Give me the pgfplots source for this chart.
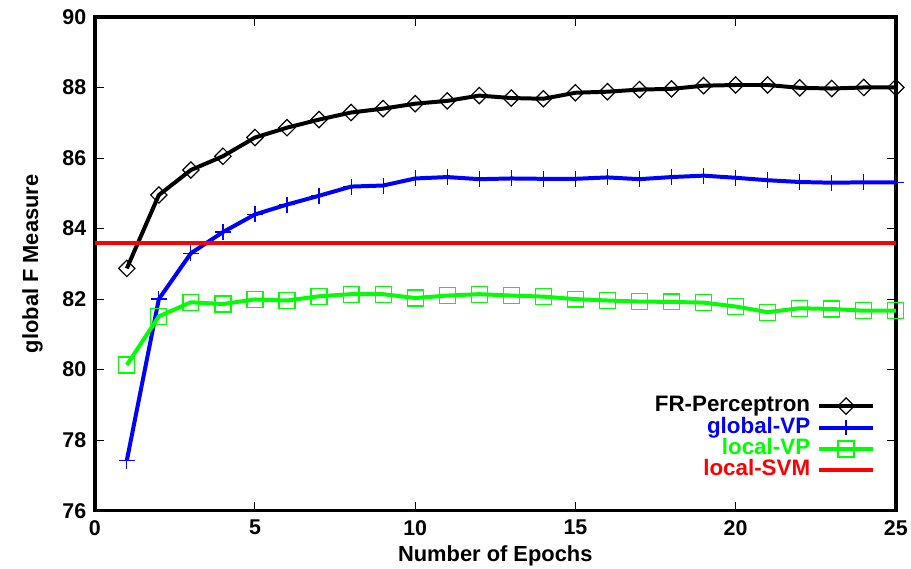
\documentclass[border=0pt]{standalone}
\usepackage{pgfplots}
\pgfplotsset{compat=1.18}
\usepackage{fontspec}
\setmainfont{Liberation Sans}

\begin{document}
\begin{tikzpicture}
\begin{axis}[
    width=803bp, height=495bp,
    scale only axis,
    xmin=0, xmax=25,
    ymin=76, ymax=90,
    xtick={0,5,10,15,20,25},
    ytick={76,78,80,82,84,86,88,90},
    tick align=inside,
    major tick length=9bp,
    tick style={black, line width=1bp},
    axis line style={line width=3.5bp},
    /pgf/number format/assume math mode=true,
    ticklabel style={font=\bfseries\fontsize{21.5}{21.5}\selectfont},
    xticklabel style={yshift=-6bp},
    yticklabel style={xshift=-5bp},
    label style={font=\bfseries\fontsize{22}{22}\selectfont},
    xlabel={Number of Epochs},
    ylabel={global F Measure},
    xlabel style={yshift=-3bp},
    ylabel style={yshift=13bp},
    clip=false,
    legend style={
        at={(rel axis cs:0.978,0.056)}, anchor=south east,
        draw=none, fill=none,
        font=\bfseries\fontsize{22.5}{22}\selectfont,
        row sep=0.5bp, column sep=7bp,
        nodes={inner sep=0pt, text height=16bp, text depth=5bp},
        cells={anchor=east},
    },
    legend plot pos=right,
    legend image code/.code={
        \draw[mark repeat=2,mark phase=2,#1]
        plot coordinates {(0bp,0bp) (27bp,0bp) (54bp,0bp)};
    },
    every axis plot/.append style={line width=4bp},
]

% FR-Perceptron
\addplot[black, mark=square, mark size=5.8bp,
    mark options={solid, rotate=45, line width=1.2bp}] coordinates {
(1,82.87) (2,84.95) (3,85.66) (4,86.05) (5,86.58) (6,86.86) (7,87.09)
(8,87.29) (9,87.40) (10,87.54) (11,87.62) (12,87.77) (13,87.70) (14,87.68)
(15,87.85) (16,87.88) (17,87.94) (18,87.96) (19,88.05) (20,88.07) (21,88.07)
(22,87.99) (23,87.97) (24,88.00) (25,88.00)
};
\addlegendentry[text=black]{FR-Perceptron}

% global-VP
\addplot[blue, mark=+, mark size=8bp,
    mark options={solid, line width=1.2bp}] coordinates {
(1,77.42) (2,82.00) (3,83.30) (4,83.90) (5,84.40) (6,84.68) (7,84.93)
(8,85.19) (9,85.22) (10,85.42) (11,85.46) (12,85.40) (13,85.42) (14,85.41)
(15,85.41) (16,85.45) (17,85.40) (18,85.46) (19,85.50) (20,85.44) (21,85.37)
(22,85.32) (23,85.30) (24,85.31) (25,85.31)
};
\addlegendentry[text=blue]{global-VP}

% local-VP
\addplot[green, mark=square, mark size=8bp,
    mark options={solid, line width=1.2bp}] coordinates {
(1,80.13) (2,81.51) (3,81.91) (4,81.86) (5,81.99) (6,81.96) (7,82.08)
(8,82.14) (9,82.14) (10,82.03) (11,82.10) (12,82.14) (13,82.10) (14,82.07)
(15,82.00) (16,81.96) (17,81.93) (18,81.92) (19,81.90) (20,81.79) (21,81.63)
(22,81.74) (23,81.72) (24,81.67) (25,81.67)
};
\addlegendentry[text=green]{local-VP}

% local-SVM
\addplot[red, no marks] coordinates {(0,83.6) (25,83.6)};
\addlegendentry[text=red]{local-SVM}

\path (axis description cs:-0.1183,-0.1172) rectangle (axis description cs:1.0162,1.0343);
\end{axis}
\end{tikzpicture}
\end{document}
